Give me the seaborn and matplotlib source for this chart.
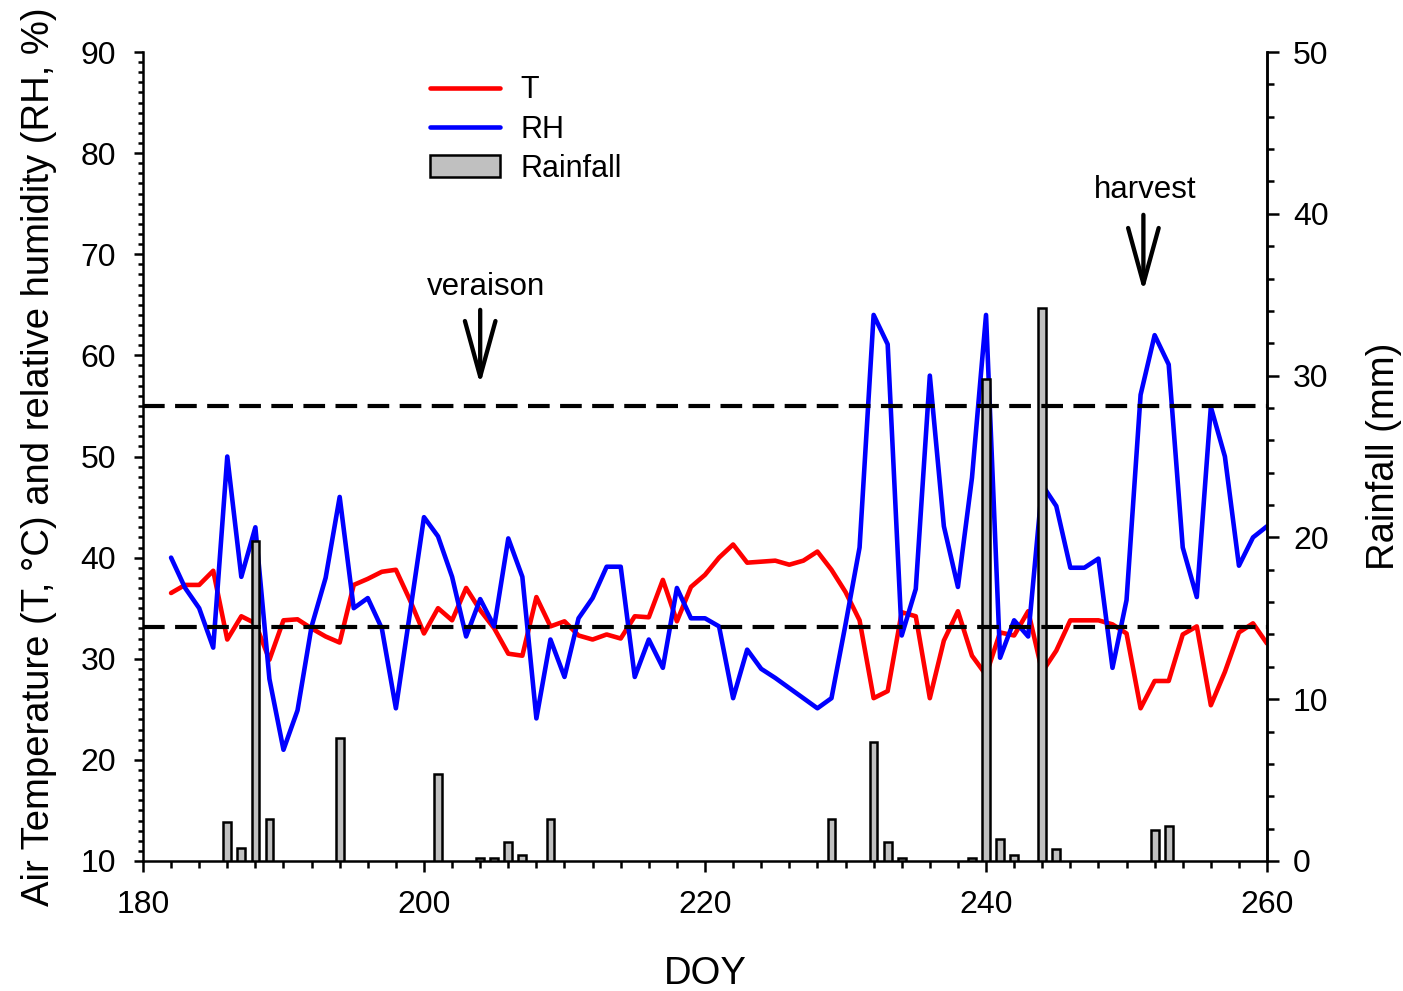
import matplotlib
matplotlib.use("Agg")
import matplotlib.pyplot as plt
import seaborn as sns
import pandas as pd
from matplotlib.lines import Line2D
from matplotlib.patches import Patch
from matplotlib.ticker import MultipleLocator

# daily weather, DOY 182-260
doy = list(range(182, 261))
temp = [36.5, 37.3, 37.3, 38.7, 31.9, 34.2, 33.5, 29.9, 33.8, 33.9,
        33.0, 32.2, 31.6, 37.3, 37.9, 38.6, 38.8, 35.8, 32.5, 35.0,
        33.8, 37.0, 34.8, 33.0, 30.5, 30.3, 36.1, 33.2, 33.7, 32.3,
        31.9, 32.4, 32.0, 34.2, 34.1, 37.8, 33.7, 37.1, 38.3, 40.0,
        41.3, 39.5, 39.6, 39.7, 39.3, 39.7, 40.6, 38.8, 36.6, 33.8,
        26.1, 26.8, 34.6, 34.2, 26.1, 31.8, 34.7, 30.3, 28.4, 32.6,
        32.3, 34.7, 28.7, 30.8, 33.8, 33.8, 33.8, 33.4, 32.5, 25.1,
        27.8, 27.8, 32.4, 33.2, 25.4, 28.7, 32.6, 33.5, 31.5]
rh = [40.0, 37.0, 35.0, 31.1, 50.0, 38.1, 43.0, 28.0, 21.0, 24.9,
      33.2, 38.0, 46.0, 35.0, 36.0, 33.0, 25.1, 34.5, 44.0, 42.1,
      38.1, 32.2, 35.9, 33.2, 41.9, 38.1, 24.1, 31.9, 28.2, 34.0,
      36.0, 39.1, 39.1, 28.2, 31.9, 29.1, 37.0, 34.0, 34.0, 33.2,
      26.1, 30.9, 29.0, 28.1, 27.1, 26.1, 25.1, 26.1, 33.4, 41.0,
      64.0, 61.1, 32.3, 36.9, 58.0, 43.1, 37.1, 47.9, 64.0, 30.1,
      33.8, 32.2, 47.2, 45.1, 39.0, 39.0, 39.9, 29.1, 35.8, 56.1,
      62.0, 59.1, 41.0, 36.1, 54.9, 50.0, 39.2, 42.0, 43.1]

rain_doy = [186, 187, 188, 189, 194, 201, 204, 205, 206, 207, 209, 229,
            232, 233, 234, 239, 240, 241, 242, 244, 245, 252, 253]
rain_mm = [2.4, 0.8, 19.8, 2.6, 7.6, 5.4, 0.17, 0.17, 1.2, 0.37, 2.6, 2.6,
           7.35, 1.17, 0.19, 0.19, 29.8, 1.36, 0.35, 34.2, 0.77, 1.93, 2.16]

thresholds = [55, 33.1]
events = ["veraison", "harvest"]
event_doy = [204, 251.2]

weather = pd.DataFrame({"doy": doy, "T": temp, "RH": rh})
rain = pd.DataFrame({"doy": rain_doy, "mm": rain_mm})

sns.set_style("ticks")
plt.rcParams["font.family"] = ["Liberation Sans", "DejaVu Sans"]
plt.rcParams.update({"text.color": "black", "axes.labelcolor": "black",
                     "xtick.color": "black", "ytick.color": "black",
                     "axes.edgecolor": "black"})

fig = plt.figure(figsize=(14.03, 9.91), dpi=100)
ax1 = fig.add_axes([0.1019, 0.1312, 0.8012, 0.8163])
ax2 = ax1.twinx()

sns.lineplot(data=weather, x="doy", y="T", color="#ff0000", ax=ax1)
sns.lineplot(data=weather, x="doy", y="RH", color="#0000ff", ax=ax1)
for line in ax1.get_lines():
    line.set_linewidth(3.3)

sns.barplot(data=rain, x="doy", y="mm", native_scale=True, width=0.55,
            color="#c0c0c0", saturation=1, edgecolor="black", linewidth=1.8,
            errorbar=None, ax=ax2)

# threshold lines on top of the bars
for t in thresholds:
    ax2.plot([180, 260], [t, t], transform=ax1.transData, color="black",
             lw=3.0, dashes=(5.2, 2.5), zorder=5)

# phenology arrows
arrow_y = {"veraison": (64.5, 57.1, 66.8), "harvest": (73.9, 66.3, 76.4)}
text_dx = {"veraison": 0.45, "harvest": 0.1}
for name, x in zip(events, event_doy):
    tail, tip, ty = arrow_y[name]
    ax1.annotate("", xy=(x, tip), xytext=(x, tail),
                 arrowprops=dict(arrowstyle="->,head_length=40,head_width=11",
                                 mutation_scale=1, lw=3.1, color="black",
                                 shrinkA=0, shrinkB=0))
    ax1.text(x + text_dx[name], ty, name, ha="center", va="center", fontsize=22.5)

ax1.set_xlim(180, 260)
ax1.set_ylim(10, 90)
ax2.set_ylim(0, 50)
ax2.set_xlim(180, 260)

ax1.xaxis.set_major_locator(MultipleLocator(20))
ax1.xaxis.set_minor_locator(MultipleLocator(2))
ax1.yaxis.set_major_locator(MultipleLocator(10))
ax1.yaxis.set_minor_locator(MultipleLocator(1))
ax2.yaxis.set_major_locator(MultipleLocator(10))
ax2.yaxis.set_minor_locator(MultipleLocator(2))

for ax in (ax1, ax2):
    ax.spines["top"].set_visible(False)
    for s in ax.spines.values():
        s.set_linewidth(1.8)
ax2.spines["left"].set_visible(False)
ax2.spines["bottom"].set_visible(False)

ax1.tick_params(axis="both", which="major", direction="out", width=1.8,
                labelsize=23, color="black")
ax1.tick_params(axis="x", which="major", length=8, pad=13)
ax1.tick_params(axis="x", which="minor", length=5, width=1.8)
ax1.tick_params(axis="y", which="major", length=6.5, pad=13)
ax1.tick_params(axis="y", which="minor", length=3.6, width=1.8)
ax2.tick_params(axis="y", which="major", direction="out", length=8.6,
                width=1.8, labelsize=23, pad=10)
ax2.tick_params(axis="y", which="minor", direction="out", length=5, width=1.8)

ax1.set_xlabel("DOY", fontsize=27.5, labelpad=26)
ax1.set_ylabel("Air Temperature (T, \u00b0C) and relative humidity (RH, %)",
               fontsize=27.5, labelpad=17)
ax2.set_ylabel("Rainfall (mm)", fontsize=27.5, labelpad=27)

handles = [Line2D([], [], color="#ff0000", lw=3.3),
           Line2D([], [], color="#0000ff", lw=3.3),
           Patch(facecolor="#c0c0c0", edgecolor="black", linewidth=1.8)]
ax2.legend(handles, ["T", "RH", "Rainfall"], loc="upper left",
           bbox_to_anchor=(0.2553, 0.971), frameon=False, fontsize=22,
           handlelength=2.3, handletextpad=0.65, labelspacing=0.3,
           borderpad=0, borderaxespad=0)

fig.savefig("out.png", dpi=100)
